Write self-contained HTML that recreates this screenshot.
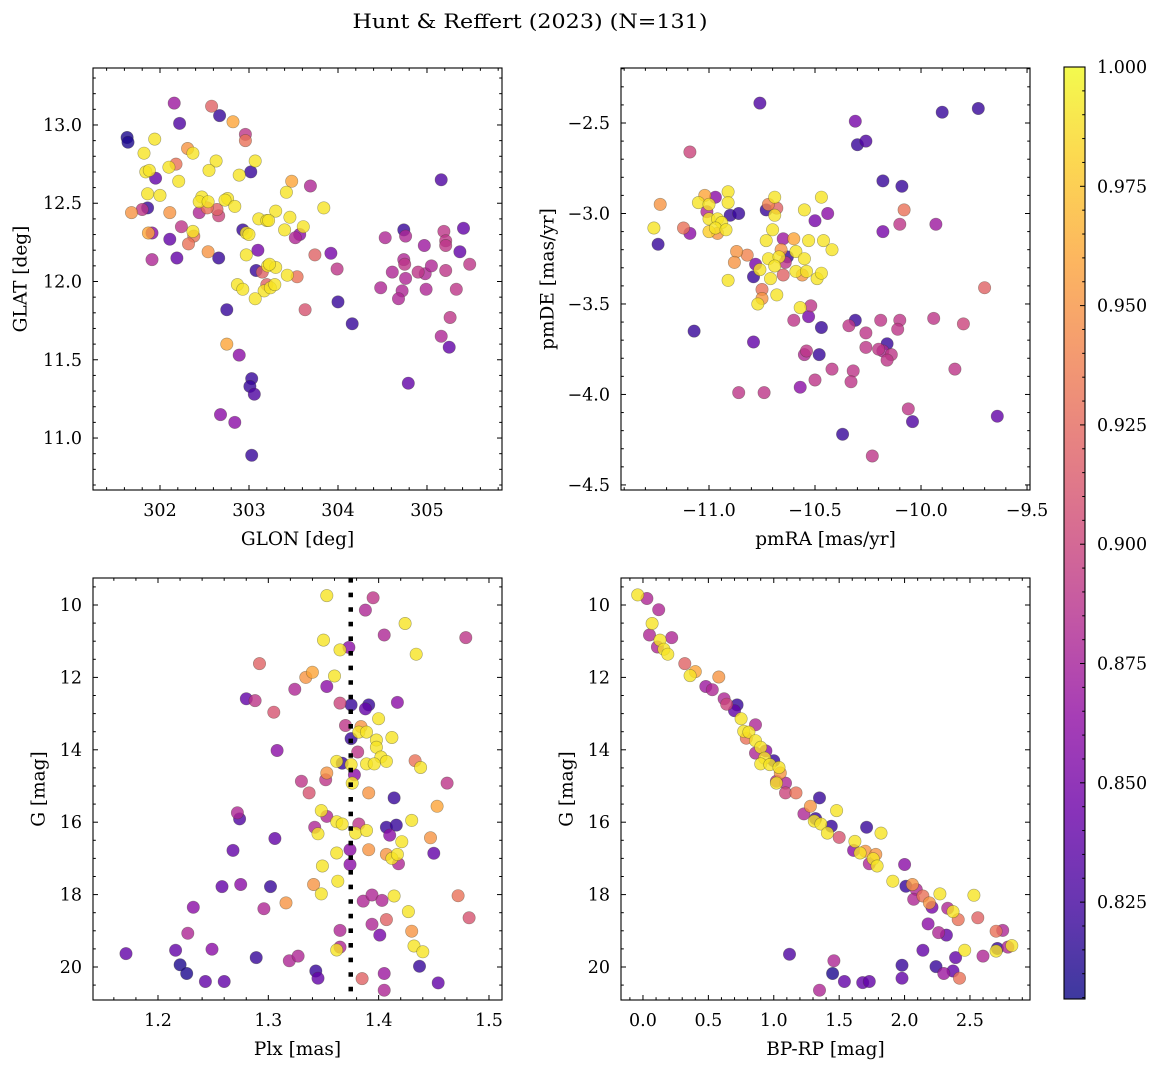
<!DOCTYPE html>
<html><head><meta charset="utf-8">
<style>
html,body{margin:0;padding:0;background:#fff;}
svg{display:block;font-family:"DejaVu Serif","Liberation Serif",serif;}
</style></head>
<body>
<svg id="fig" width="1161" height="1067" viewBox="0 0 1161 1067" xmlns="http://www.w3.org/2000/svg">
<defs>
<linearGradient id="plasmaGrad" x1="0" y1="1" x2="0" y2="0"></linearGradient>
</defs>
<rect width="1161" height="1067" fill="#fff"/>
<text x="530" y="28" text-anchor="middle" font-size="20" textLength="355" lengthAdjust="spacingAndGlyphs">Hunt &amp; Reffert (2023) (N=131)</text>
<g id="layer"></g>
</svg>
<script>
// ---------- Panel 1: GLON / GLAT ----------
const P1_GLON=[302.16,302.58,302.67,302.82,302.22,302.96,302.96,301.63,301.64,301.94,302.31,302.37,301.82,303.07,302.63,302.18,302.10,302.55,301.84,301.88,301.95,302.21,302.89,303.02,303.48,303.69,303.42,301.86,302.00,302.47,302.44,302.54,302.76,302.73,302.84,303.84,301.68,301.80,301.86,302.11,302.44,302.53,302.64,302.66,303.30,303.46,303.11,303.20,303.22,302.24,303.61,303.40,301.87,301.91,302.37,302.11,302.38,302.32,302.93,302.97,303.00,303.52,303.57,302.54,303.10,301.91,302.19,302.66,302.97,303.74,303.92,303.99,303.08,303.15,303.21,303.30,303.23,303.43,303.54,302.87,302.93,303.20,303.17,303.24,303.29,303.07,302.75,303.63,304.00,304.16,302.75,302.89,303.03,303.01,303.06,302.68,302.84,303.03,305.16,304.74,304.76,304.53,304.97,305.19,305.21,305.21,305.41,305.37,304.74,304.75,304.61,304.76,304.90,304.98,305.05,305.21,305.48,304.48,304.72,304.68,304.99,305.33,305.26,305.16,305.25,304.79];
const P1_GLAT=[13.14,13.12,13.06,13.02,13.01,12.94,12.90,12.92,12.89,12.91,12.85,12.82,12.82,12.77,12.77,12.75,12.73,12.71,12.70,12.71,12.66,12.64,12.68,12.70,12.64,12.61,12.57,12.56,12.55,12.54,12.51,12.51,12.53,12.52,12.48,12.47,12.44,12.46,12.47,12.44,12.44,12.47,12.46,12.42,12.45,12.41,12.40,12.39,12.39,12.35,12.35,12.33,12.31,12.31,12.32,12.27,12.29,12.24,12.33,12.31,12.30,12.28,12.30,12.19,12.20,12.14,12.15,12.15,12.17,12.17,12.18,12.08,12.07,12.06,12.10,12.09,12.11,12.04,12.03,11.98,11.95,11.98,11.94,11.96,11.98,11.89,11.82,11.82,11.87,11.73,11.60,11.53,11.38,11.33,11.28,11.15,11.10,10.89,12.65,12.33,12.29,12.28,12.23,12.32,12.26,12.23,12.34,12.19,12.14,12.11,12.06,12.02,12.06,12.05,12.10,12.07,12.11,11.96,11.94,11.89,11.95,11.95,11.77,11.65,11.58,11.35];
const P1_PROB=[.87,.92,.82,.96,.83,.89,.93,.81,.81,.99,.95,.99,.99,.99,.99,.93,.99,.99,.99,.99,.84,.99,.99,.82,.96,.88,.99,.99,.99,.99,.99,.99,.99,.99,.99,.99,.95,.89,.82,.95,.88,.93,.92,.90,.99,.99,.99,.99,.99,.89,.99,.99,.96,.86,.99,.84,.93,.93,.82,.99,.99,.88,.86,.95,.85,.88,.84,.82,.99,.92,.85,.89,.82,.92,.99,.99,.99,.99,.93,.99,.99,.92,.99,.99,.99,.99,.82,.91,.82,.82,.96,.86,.82,.82,.83,.86,.86,.82,.83,.82,.88,.88,.87,.89,.89,.89,.84,.84,.88,.89,.88,.88,.89,.88,.88,.89,.89,.88,.88,.88,.88,.89,.89,.88,.84,.84];
const P1_XTICKS=[302,303,304,305];
const P1_YTICKS=[11.0,11.5,12.0,12.5,13.0];

// ---------- Panel 2: pmRA / pmDE ----------
const P2_PMRA=[-10.76,-10.31,-10.30,-10.26,-9.90,-9.73,-11.09,-10.18,-10.09,-11.23,-11.26,-11.24,-11.12,-11.09,-11.02,-11.05,-10.97,-10.91,-10.91,-11.00,-11.01,-11.00,-10.96,-10.94,-10.97,-10.92,-11.00,-10.96,-10.90,-10.86,-10.72,-10.73,-10.68,-10.69,-10.69,-10.70,-10.55,-10.47,-10.50,-10.44,-10.08,-10.10,-9.93,-10.18,-10.65,-10.73,-10.60,-10.53,-10.46,-10.42,-10.87,-10.82,-10.88,-10.66,-10.59,-10.55,-10.78,-10.72,-10.67,-10.63,-10.64,-10.69,-10.76,-10.71,-10.65,-10.79,-10.91,-10.59,-10.54,-10.56,-10.49,-10.47,-10.75,-10.75,-10.77,-10.68,-10.57,-10.52,-10.53,-10.60,-10.47,-11.07,-10.79,-10.31,-10.34,-10.26,-10.19,-10.10,-10.11,-9.94,-9.80,-9.70,-10.16,-10.26,-10.20,-10.18,-10.14,-10.16,-10.54,-10.55,-10.48,-10.42,-10.32,-10.33,-10.50,-10.57,-10.86,-10.74,-9.84,-10.06,-10.04,-9.64,-10.37,-10.23];
const P2_PMDE=[-2.39,-2.49,-2.62,-2.60,-2.44,-2.42,-2.66,-2.82,-2.85,-2.95,-3.08,-3.17,-3.08,-3.11,-2.90,-2.94,-2.91,-2.88,-2.94,-2.95,-2.99,-3.03,-3.03,-3.05,-3.08,-3.09,-3.10,-3.11,-3.01,-3.00,-2.95,-2.98,-2.97,-2.91,-3.01,-3.09,-2.98,-2.91,-3.04,-3.00,-2.98,-3.06,-3.06,-3.10,-3.14,-3.15,-3.14,-3.15,-3.15,-3.20,-3.21,-3.23,-3.27,-3.20,-3.21,-3.25,-3.28,-3.25,-3.24,-3.24,-3.27,-3.29,-3.31,-3.36,-3.34,-3.35,-3.37,-3.32,-3.32,-3.34,-3.36,-3.33,-3.42,-3.47,-3.50,-3.45,-3.52,-3.51,-3.57,-3.59,-3.63,-3.65,-3.71,-3.59,-3.62,-3.66,-3.59,-3.59,-3.64,-3.58,-3.61,-3.41,-3.72,-3.74,-3.75,-3.76,-3.78,-3.81,-3.76,-3.78,-3.78,-3.86,-3.87,-3.93,-3.92,-3.96,-3.99,-3.99,-3.86,-4.08,-4.15,-4.12,-4.22,-4.34];
const P2_PROB=[.83,.85,.82,.83,.82,.82,.90,.82,.82,.95,.99,.82,.93,.86,.96,.99,.86,.99,.99,.99,.88,.99,.99,.99,.99,.99,.98,.95,.82,.82,.94,.82,.92,.99,.99,.99,.99,.99,.85,.86,.93,.89,.87,.85,.87,.99,.96,.99,.99,.99,.95,.94,.95,.95,.99,.99,.85,.99,.99,.82,.89,.99,.99,.99,.92,.82,.99,.99,.99,.95,.99,.99,.93,.95,.99,.99,.99,.89,.85,.89,.82,.82,.84,.82,.89,.89,.89,.89,.89,.89,.90,.92,.82,.89,.89,.88,.89,.89,.89,.88,.82,.89,.89,.89,.89,.86,.89,.89,.89,.89,.83,.84,.82,.89];
const P2_XTICKS=[-11.0,-10.5,-10.0,-9.5];
const P2_YTICKS=[-4.5,-4.0,-3.5,-3.0,-2.5];

// ---------- Panel 3: Plx / G ----------
const P3_PLX=[1.353,1.395,1.388,1.424,1.405,1.479,1.350,1.365,1.373,1.434,1.292,1.334,1.340,1.360,1.324,1.353,1.280,1.288,1.305,1.365,1.375,1.391,1.388,1.417,1.400,1.370,1.384,1.382,1.389,1.412,1.375,1.398,1.398,1.381,1.308,1.402,1.407,1.362,1.367,1.375,1.389,1.396,1.433,1.438,1.353,1.352,1.378,1.376,1.330,1.337,1.462,1.391,1.414,1.453,1.272,1.274,1.348,1.353,1.362,1.367,1.382,1.379,1.389,1.342,1.345,1.407,1.416,1.410,1.430,1.421,1.447,1.450,1.306,1.268,1.362,1.391,1.374,1.407,1.412,1.417,1.418,1.374,1.349,1.258,1.275,1.302,1.341,1.348,1.363,1.316,1.232,1.296,1.386,1.394,1.403,1.414,1.427,1.472,1.482,1.407,1.394,1.401,1.430,1.227,1.365,1.365,1.362,1.432,1.440,1.171,1.216,1.249,1.289,1.319,1.327,1.220,1.226,1.243,1.260,1.343,1.345,1.385,1.405,1.405,1.437,1.454];
const P3_G=[9.74,9.80,10.14,10.51,10.83,10.90,10.97,11.24,11.17,11.36,11.62,12.00,11.86,11.96,12.33,12.25,12.59,12.64,12.96,12.71,12.76,12.76,12.87,12.69,13.14,13.33,13.36,13.51,13.51,13.66,13.69,13.73,13.93,14.06,14.02,14.20,14.32,14.32,14.37,14.41,14.39,14.39,14.30,14.49,14.64,14.83,14.69,14.92,14.87,15.19,14.92,15.19,15.33,15.56,15.74,15.91,15.68,15.84,15.99,16.05,16.05,16.30,16.23,16.14,16.32,16.14,16.08,16.36,15.95,16.54,16.43,16.86,16.45,16.78,16.85,16.76,16.76,16.89,17.00,16.89,17.15,17.17,17.21,17.78,17.72,17.78,17.72,17.98,17.63,18.23,18.35,18.39,18.18,18.01,18.16,18.04,18.47,18.03,18.64,18.69,18.82,19.12,19.01,19.07,18.99,19.45,19.53,19.42,19.58,19.63,19.54,19.51,19.74,19.83,19.70,19.94,20.18,20.40,20.40,20.11,20.31,20.32,20.18,20.64,19.98,20.44];
const P3_PROB=[.99,.89,.88,.99,.88,.89,.99,.99,.86,.99,.92,.95,.96,.99,.88,.86,.84,.89,.91,.90,.82,.82,.84,.86,.99,.89,.95,.99,.99,.99,.82,.99,.99,.89,.86,.99,.99,.99,.82,.99,.99,.99,.93,.99,.95,.89,.86,.99,.89,.91,.89,.95,.82,.96,.88,.83,.99,.88,.99,.99,.89,.99,.99,.88,.99,.82,.82,.86,.99,.99,.95,.84,.84,.84,.99,.95,.86,.95,.99,.99,.88,.86,.99,.84,.86,.82,.95,.99,.99,.95,.86,.88,.88,.88,.88,.99,.99,.93,.91,.92,.88,.85,.95,.88,.88,.88,.99,.99,.99,.84,.84,.86,.82,.88,.88,.81,.81,.84,.84,.82,.84,.92,.87,.88,.82,.84];
const P3_XTICKS=[1.2,1.3,1.4,1.5];
const P3_YTICKS=[10,12,14,16,18,20];
const P3_CLUSTER_PLX=[1.3747];

// ---------- Panel 4: BP-RP / G ----------
const P4_BPRP=[-0.04,0.03,0.12,0.07,0.05,0.22,0.13,0.11,0.16,0.19,0.32,0.40,0.36,0.58,0.48,0.53,0.62,0.64,0.72,0.70,0.86,0.75,0.77,0.81,0.79,0.86,0.94,0.90,0.86,1.00,0.93,0.90,0.97,1.04,1.05,1.02,1.09,1.02,1.09,1.17,1.35,1.28,1.23,1.32,1.31,1.36,1.44,1.48,1.41,1.50,1.71,1.82,1.62,1.61,1.66,1.70,1.78,1.73,1.76,1.79,2.00,1.91,2.01,2.06,2.09,2.07,2.14,2.19,2.21,2.27,2.33,2.37,2.41,2.53,2.56,2.18,2.26,2.32,2.70,2.75,2.46,2.60,2.70,2.71,2.79,2.82,2.14,2.39,1.12,1.46,1.45,1.54,1.68,1.73,1.98,1.98,2.24,2.30,2.37,2.42,1.35];
const P4_G=[9.72,9.82,10.13,10.51,10.83,10.90,10.97,11.16,11.22,11.36,11.62,11.84,11.95,11.99,12.25,12.34,12.59,12.74,12.76,12.92,13.31,13.14,13.49,13.51,13.68,13.75,14.03,13.93,14.09,14.30,14.23,14.39,14.41,14.49,14.64,14.87,14.92,14.92,15.19,15.19,15.33,15.56,15.77,15.90,15.97,16.05,16.11,15.68,16.30,16.42,16.14,16.30,16.53,16.78,16.85,16.80,16.89,17.15,17.01,17.21,17.17,17.63,17.77,17.72,17.86,18.13,18.04,18.23,18.35,17.98,18.38,18.47,18.69,18.02,18.64,18.81,19.05,19.12,19.01,18.99,19.54,19.70,19.56,19.49,19.45,19.41,19.54,19.74,19.65,19.83,20.18,20.40,20.43,20.40,19.95,20.31,19.99,20.18,20.11,20.31,20.64];
const P4_PROB=[.99,.88,.88,.99,.88,.88,.99,.88,.99,.99,.92,.96,.99,.95,.87,.88,.88,.90,.82,.84,.88,.99,.99,.99,.93,.99,.86,.99,.88,.82,.99,.99,.99,.99,.95,.88,.88,.99,.90,.93,.82,.95,.88,.82,.99,.99,.82,.99,.99,.91,.82,.99,.99,.86,.99,.95,.95,.88,.99,.99,.86,.99,.82,.95,.88,.88,.93,.95,.85,.99,.88,.99,.93,.99,.92,.86,.88,.84,.93,.88,.99,.88,.99,.82,.88,.99,.84,.84,.83,.88,.81,.84,.84,.84,.82,.84,.82,.87,.84,.93,.88];
const P4_XTICKS=[0.0,0.5,1.0,1.5,2.0,2.5];
const P4_YTICKS=[10,12,14,16,18,20];

// ---------- Colorbar ----------
const CB_TICKS=[0.825,0.850,0.875,0.900,0.925,0.950,0.975,1.000];
const CB_MIN=0.8047, CB_MAX=1.0;

const NS="http://www.w3.org/2000/svg";
const layer=document.getElementById('layer');
function el(tag,attrs,parent){const e=document.createElementNS(NS,tag);for(const k in attrs)e.setAttribute(k,attrs[k]);(parent||layer).appendChild(e);return e;}
function lin(d0,d1,r0,r1){return v=>r0+(v-d0)/(d1-d0)*(r1-r0);}
const PL=[[0,13,8,135],[.1,65,4,157],[.2,106,0,168],[.3,143,13,164],[.4,177,42,144],[.5,204,71,120],[.6,225,100,98],[.7,242,132,75],[.8,252,166,54],[.9,252,206,37],[1,240,249,33]];
function plasma(t){t=Math.max(0,Math.min(1,t));for(let i=1;i<PL.length;i++){if(t<=PL[i][0]){const a=PL[i-1],b=PL[i],f=(t-a[0])/(b[0]-a[0]);return 'rgb('+[1,2,3].map(j=>Math.round(a[j]+(b[j]-a[j])*f)).join(',')+')';}}return 'rgb(240,249,33)';}
function fmt(v,d){const s=Math.abs(v).toFixed(d);return (v<0?'\u2212':'')+s;}
function range(lo,hi,step){const out=[];const s=Math.ceil(lo/step-1e-9);for(let k=s;k*step<=hi+1e-9;k++)out.push(+(k*step).toFixed(6));return out;}

function panel(cfg){
  const g=el('g',{});
  
  
  const {x0,x1,y0,y1}=cfg;
  const sx=lin(cfg.xd[0],cfg.xd[1],x0,x1);
  const sy=lin(cfg.yd[0],cfg.yd[1],y0,y1);
  // points sorted by prob
  const idx=cfg.xs.map((_,i)=>i).sort((a,b)=>(cfg.ps[a]||0.9)-(cfg.ps[b]||0.9));
  const pg=el('g',{},g);
  
  
  idx.forEach(i=>{const p=cfg.ps[i]||0.9;const t=(p-CB_MIN)/(CB_MAX-CB_MIN);
    const c=el('circle',{cx:sx(cfg.xs[i]).toFixed(1),cy:sy(cfg.ys[i]).toFixed(1),r:6.2,fill:plasma(t),'fill-opacity':0.8,stroke:'rgba(60,60,40,0.45)','stroke-width':0.6},pg);
    
    });
  // extra vertical line (on top of points)
  if(cfg.vline){cfg.vline.forEach(v=>{const l=el('line',{x1:sx(v),x2:sx(v),y1:y0,y2:y1,stroke:'#000','stroke-width':4.5,'stroke-dasharray':'4.6 10'},g);
    
    });}
  // frame
  const f=el('rect',{x:x0,y:y0,width:x1-x0,height:y1-y0,fill:'none',stroke:'#000','stroke-width':1.1},g);
  
  
  // ticks
  const tk=el('g',{stroke:'#000','stroke-width':1},g);
  const xlo=Math.min(cfg.xd[0],cfg.xd[1]),xhi=Math.max(cfg.xd[0],cfg.xd[1]);
  const ylo=Math.min(cfg.yd[0],cfg.yd[1]),yhi=Math.max(cfg.yd[0],cfg.yd[1]);
  range(xlo,xhi,cfg.xminor).forEach(v=>{const x=sx(v);const maj=cfg.xticks.some(m=>Math.abs(m-v)<1e-6);const L=maj?5:2.8;
    el('line',{x1:x,x2:x,y1:y1,y2:y1-L},tk);el('line',{x1:x,x2:x,y1:y0,y2:y0+L},tk);});
  range(ylo,yhi,cfg.yminor).forEach(v=>{const y=sy(v);const maj=cfg.yticks.some(m=>Math.abs(m-v)<1e-6);const L=maj?5:2.8;
    el('line',{x1:x0,x2:x0+L,y1:y,y2:y},tk);el('line',{x1:x1,x2:x1-L,y1:y,y2:y},tk);});
  cfg.xticks.forEach(v=>{const t=el('text',{x:sx(v),y:y1+26,'text-anchor':'middle','font-size':17.5},g);t.textContent=fmt(v,cfg.xdec);
    
    });
  cfg.yticks.forEach(v=>{const t=el('text',{x:x0-11,y:sy(v)+6,'text-anchor':'end','font-size':17.5},g);t.textContent=fmt(v,cfg.ydec);
    
    });
  const xl=el('text',{x:(x0+x1)/2,y:y1+55,'text-anchor':'middle','font-size':18.5},g);xl.textContent=cfg.xlabel;
  
  
  const yc=(y0+y1)/2;
  const yl=el('text',{x:cfg.ylx,y:yc,'text-anchor':'middle','font-size':18.5,transform:'rotate(-90 '+cfg.ylx+' '+yc+')',dy:'0.35em'},g);yl.textContent=cfg.ylabel;
  
  
}

panel({name:'glon-glat-panel',x0:93,x1:502,y0:68,y1:490,xd:[301.247,305.843],yd:[13.364,10.668],xs:P1_GLON,ys:P1_GLAT,ps:P1_PROB,xticks:P1_XTICKS,yticks:P1_YTICKS,xminor:0.2,yminor:0.1,xdec:0,ydec:1,xlabel:'GLON [deg]',ylabel:'GLAT [deg]',ylx:20});
panel({name:'proper-motion-panel',x0:621,x1:1030,y0:68,y1:490,xd:[-11.415,-9.486],yd:[-2.196,-4.528],xs:P2_PMRA,ys:P2_PMDE,ps:P2_PROB,xticks:P2_XTICKS,yticks:P2_YTICKS,xminor:0.1,yminor:0.1,xdec:1,ydec:1,xlabel:'pmRA [mas/yr]',ylabel:'pmDE [mas/yr]',ylx:547});
panel({name:'parallax-mag-panel',x0:93,x1:502,y0:578,y1:1000,xd:[1.1411,1.5118],yd:[9.254,20.912],xs:P3_PLX,ys:P3_G,ps:P3_PROB,xticks:P3_XTICKS,yticks:P3_YTICKS,xminor:0.02,yminor:0.5,xdec:1,ydec:0,xlabel:'Plx [mas]',ylabel:'G [mag]',ylx:38,vline:P3_CLUSTER_PLX});
panel({name:'cmd-panel',x0:621,x1:1030,y0:578,y1:1000,xd:[-0.168,2.959],yd:[9.254,20.912],xs:P4_BPRP,ys:P4_G,ps:P4_PROB,xticks:P4_XTICKS,yticks:P4_YTICKS,xminor:0.1,yminor:0.5,xdec:1,ydec:0,xlabel:'BP-RP [mag]',ylabel:'G [mag]',ylx:566});

// colorbar
(function(){
  const grad=document.getElementById('plasmaGrad');
  for(let i=0;i<=20;i++){const s=document.createElementNS(NS,'stop');s.setAttribute('offset',(i/20));s.setAttribute('stop-color',plasma(i/20));s.setAttribute('stop-opacity',0.8);grad.appendChild(s);}
  const cx0=1064,cx1=1085,cy0=67,cy1=999;
  const sy=lin(CB_MIN,CB_MAX,cy1,cy0);
  const g=el('g',{});
  
  
  el('rect',{x:cx0,y:cy0,width:cx1-cx0,height:cy1-cy0,fill:'url(#plasmaGrad)',stroke:'#000','stroke-width':1.1},g);
  range(0.805,1.0,0.005).forEach(v=>{const y=sy(v);const maj=CB_TICKS.some(m=>Math.abs(m-v)<1e-6);
    el('line',{x1:cx1,x2:cx1-(maj?5:2.8),y1:y,y2:y,stroke:'#000','stroke-width':1},g);});
  CB_TICKS.forEach(v=>{const t=el('text',{x:cx1+12,y:sy(v)+6,'font-size':17.5},g);t.textContent=v.toFixed(3);
    
    });
})();
</script>
</body></html>
